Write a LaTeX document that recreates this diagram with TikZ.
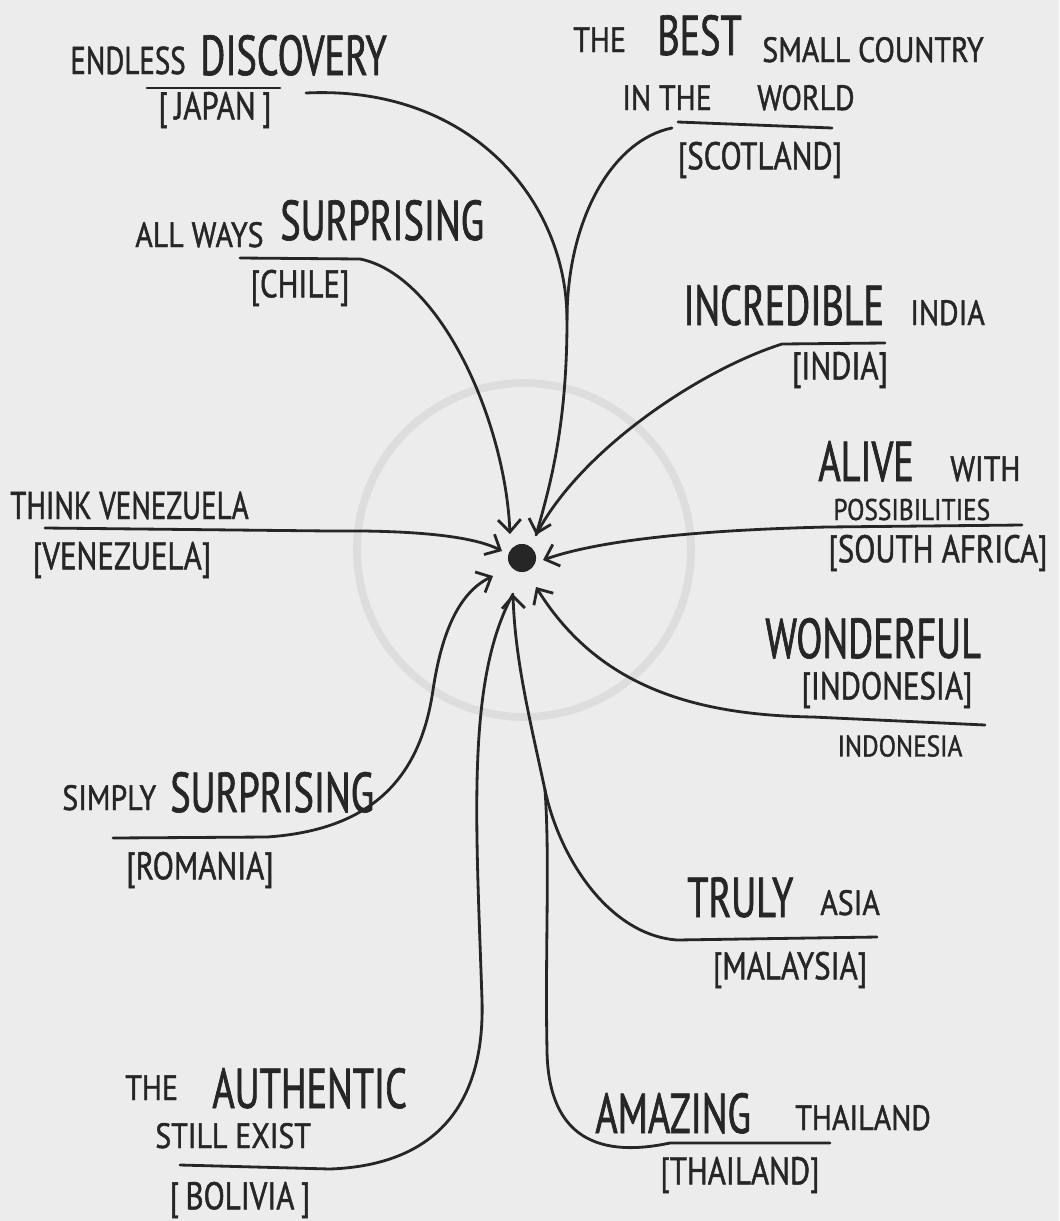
\documentclass[tikz,border=0pt]{standalone}
\usepackage{fontspec}
\usetikzlibrary{arrows.meta}
\newfontfamily\handbig[FakeStretch=0.68,FakeBold=1.2]{PT Sans}
\newfontfamily\handmid[FakeStretch=0.75,FakeBold=1.2]{PT Sans}
\newfontfamily\handsml[FakeStretch=0.85,FakeBold=1.2]{PT Sans}
\newfontfamily\brkfont[FakeStretch=0.8,FakeBold=1.2]{PT Sans}
\definecolor{paper}{HTML}{ECECEC}
\definecolor{ink}{HTML}{262626}
\definecolor{ringgray}{HTML}{DDDDDD}
\newcommand\szL{\fontsize{32}{36}\selectfont}
\newcommand\szM{\fontsize{22}{26}\selectfont}
\newcommand\szS{\fontsize{20}{24}\selectfont}
\newcommand\szT{\fontsize{17}{20}\selectfont}
\begin{document}
\begin{tikzpicture}[x=0.02cm,y=-0.02cm,
  txt/.style={inner sep=0pt, anchor=base west, text=ink},
  wbig/.style={txt, font=\handbig\szL},
  wmid/.style={txt, font=\handmid\szM},
  wsml/.style={txt, font=\handsml\szS},
  wtiny/.style={txt, font=\handsml\szT},
  brk/.style={inner sep=0pt, anchor=center, text=ink, font=\brkfont\szM},
  link/.style={draw=ink, line width=1.6pt, line cap=round},
  tip/.style={link, -{Straight Barb[length=7pt,width=13pt]}},
]
\useasboundingbox (0,0) rectangle (1059,1221);
\fill[paper] (0,0) rectangle (1059,1221);
% faint ring
\draw[ringgray, line width=4.5pt] (524,550) circle [radius=167];
% hub
\node[circle, fill=ink, minimum size=16pt, inner sep=0pt] (hub) at (522,558) {};

% ---------- texts ----------
% Japan
\node[wmid] (jp1) at (70,74) {ENDLESS};
\node[wbig] (jp2) at (200,75) {DISCOVERY};
\node[brk] (jp3) at (215,110) {[\,JAPAN\,]};
% Scotland
\node[wsml] (sc1) at (573,52) {THE};
\node[wbig] (sc2) at (657,55) {BEST};
\node[wsml] (sc3) at (762,62) {SMALL COUNTRY};
\node[wsml] (sc4) at (622,110) {IN THE};
\node[wsml] (sc5) at (757,110) {WORLD};
\node[brk] (sc6) at (760,160) {[SCOTLAND]};
% Chile
\node[wsml] (ch1) at (135,247) {ALL WAYS};
\node[wbig] (ch2) at (280,240) {SURPRISING};
\node[brk] (ch3) at (300,288) {[CHILE]};
% India
\node[wbig] (in1) at (683,325) {INCREDIBLE};
\node[wsml] (in2) at (910,325) {INDIA};
\node[brk] (in3) at (840,370) {[INDIA]};
% South Africa
\node[wbig] (sa1) at (818,481) {ALIVE};
\node[wsml] (sa2) at (950,481) {WITH};
\node[wtiny] (sa3) at (833,520) {POSSIBILITIES};
\node[brk] (sa4) at (938,553) {[SOUTH AFRICA]};
% Venezuela
\node[wmid] (ve1) at (10,519) {THINK VENEZUELA};
\node[brk] (ve2) at (122,560) {[VENEZUELA]};
% Indonesia
\node[wbig] (id1) at (765,658) {WONDERFUL};
\node[brk] (id2) at (887,690) {[INDONESIA]};
\node[wtiny, anchor=center] (id3) at (900,746) {INDONESIA};
% Romania
\node[wsml] (ro1) at (62,810) {SIMPLY};
\node[wbig] (ro2) at (170,812) {SURPRISING};
\node[brk] (ro3) at (200,870) {[ROMANIA]};
% Malaysia
\node[wbig] (my1) at (687,917) {TRULY};
\node[wsml] (my2) at (820,915) {ASIA};
\node[brk] (my3) at (790,970) {[MALAYSIA]};
% Bolivia
\node[wsml] (bo1) at (125,1100) {THE};
\node[wbig] (bo2) at (212,1108) {AUTHENTIC};
\node[wsml] (bo3) at (155,1148) {STILL EXIST};
\node[brk] (bo4) at (240,1200) {[\,BOLIVIA\,]};
% Thailand
\node[wbig] (th1) at (595,1133) {AMAZING};
\node[wsml] (th2) at (795,1130) {THAILAND};
\node[brk] (th3) at (740,1175) {[THAILAND]};

% ---------- coordinates ----------
\coordinate (t-chile) at (510,534);
\coordinate (t-ne) at (536,535);
\coordinate (t-w) at (502,551);
\coordinate (t-e) at (543,560);
\coordinate (t-sw) at (493,576);
\coordinate (t-s) at (513,594);
\coordinate (t-se) at (536,587);
\coordinate (m-n) at (567,320);
\coordinate (m-s) at (545,790);

\coordinate (jp-a) at (147,88);  \coordinate (jp-b) at (280,88);
\coordinate (jp-u) at (306,93);
\coordinate (sc-a) at (678,122); \coordinate (sc-b) at (832,128);
\coordinate (sc-u) at (672,128);
\coordinate (ch-u) at (240,258); \coordinate (ch-k) at (360,259);
\coordinate (in-u) at (885,343); \coordinate (in-k) at (782,344);
\coordinate (sa-u) at (1022,525); \coordinate (sa-k) at (827,527);
\coordinate (ve-u) at (45,528);  \coordinate (ve-k) at (330,531);
\coordinate (id-u) at (985,725); \coordinate (id-k) at (813,717);
\coordinate (ro-u) at (113,838); \coordinate (ro-k) at (267,837);
\coordinate (my-u) at (877,937); \coordinate (my-k) at (677,940);
\coordinate (bo-u) at (180,1165); \coordinate (bo-k) at (330,1169);
\coordinate (th-u) at (830,1143); \coordinate (th-k) at (670,1143);

% ---------- underlines ----------
\draw[link] (jp-a) -- (jp-b);
\draw[link] (sc-a) -- (sc-b);

% ---------- connectors ----------
\draw[link] (jp-u) .. controls (470,85) and (567,200) .. (m-n);
\draw[link] (sc-u) .. controls (612,140) and (567,220) .. (m-n);
\draw[tip] (m-n) .. controls (567,420) and (552,480) .. (t-ne);
\draw[link] (in-u) -- (in-k) .. controls (700,370) and (580,450) .. (t-ne);
\draw[tip] (ch-u) -- (ch-k) .. controls (440,275) and (505,420) .. (t-chile);
\draw[tip] (ve-u) -- (ve-k) .. controls (420,530) and (475,537) .. (t-w);
\draw[tip] (sa-u) -- (sa-k) .. controls (700,530) and (600,540) .. (t-e);
\draw[tip] (id-u) -- (id-k) .. controls (700,715) and (600,690) .. (t-se);
\draw[tip] (ro-u) -- (ro-k) .. controls (370,830) and (420,780) .. (433,690)
            .. controls (442,630) and (460,592) .. (t-sw);
\draw[link] (bo-u) -- (bo-k) .. controls (440,1165) and (485,1100) .. (482,1000)
            .. controls (476,820) and (466,680) .. (t-s);
\draw[link] (my-u) -- (my-k) .. controls (610,935) and (560,860) .. (m-s);
\draw[link] (th-u) -- (th-k) .. controls (590,1160) and (548,1130) .. (547,1050)
            .. controls (545,950) and (550,860) .. (m-s);
\draw[tip] (m-s) .. controls (530,720) and (515,660) .. (t-s);
\end{tikzpicture}
\end{document}
